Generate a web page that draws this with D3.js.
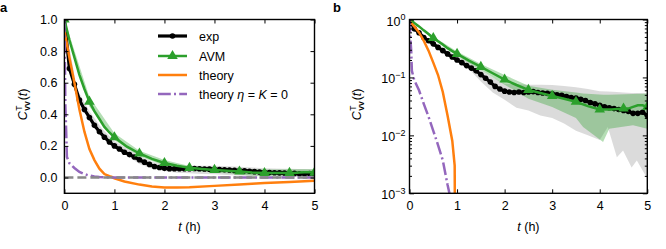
<!DOCTYPE html>
<html>
<head>
<meta charset="utf-8">
<script src="https://cdn.jsdelivr.net/npm/d3@7"></script>
<style>
  body { margin: 0; background: #fff; }
  text { font-family: "Liberation Sans", Arial, sans-serif; }
</style>
</head>
<body>
<svg id="chart" width="666" height="249"></svg>
<script>
// ---- data ----
const timeTicks = [0, 1, 2, 3, 4, 5];
const linTicks = [0.0, 0.2, 0.4, 0.6, 0.8, 1.0];
const logTicks = [1, 0.1, 0.01, 0.001];
const logTickExp = ["0", "\u22121", "\u22122", "\u22123"];
const legendLabels = ["exp", "AVM", "theory", "theory \u03b7 = K = 0"];

const expT = [0, 0.1, 0.2, 0.3, 0.4, 0.5, 0.6, 0.7, 0.8, 0.9, 1.0, 1.1, 1.2, 1.3, 1.4, 1.5, 1.6, 1.7, 1.8, 1.9,
  2.0, 2.1, 2.2, 2.3, 2.4, 2.5, 2.6, 2.7, 2.8, 2.9, 3.0, 3.1, 3.2, 3.3, 3.4, 3.5, 3.6, 3.7, 3.8, 3.9,
  4.0, 4.1, 4.2, 4.3, 4.4, 4.5, 4.6, 4.7, 4.8, 4.9, 5.0];
const expC = [1.0, 0.69, 0.59, 0.49, 0.43, 0.38, 0.33, 0.29, 0.255, 0.225, 0.2, 0.18, 0.16, 0.145, 0.13, 0.112, 0.097, 0.083, 0.07, 0.063,
  0.058, 0.056, 0.055, 0.056, 0.055, 0.056, 0.057, 0.055, 0.054, 0.053, 0.052, 0.05, 0.049, 0.047, 0.045, 0.044, 0.042, 0.04, 0.037, 0.035,
  0.033, 0.031, 0.03, 0.029, 0.028, 0.027, 0.026, 0.024, 0.024, 0.025, 0.022];

const expBandT = [0, 0.25, 0.5, 0.75, 1, 1.25, 1.5, 1.75, 2, 2.25, 2.5, 2.75, 3, 3.25, 3.5, 3.75, 4, 4.17, 4.36, 4.49, 4.67, 4.78, 5];
const expLo = [1, 0.5, 0.36, 0.26, 0.185, 0.14, 0.085, 0.055, 0.041, 0.03, 0.027, 0.022, 0.02, 0.016, 0.012, 0.01, 0.0083, 0.014, 0.0042, 0.0055, 0.0028, 0.0037, 0.0018];
const expHi = [1, 0.56, 0.42, 0.31, 0.23, 0.185, 0.135, 0.1, 0.078, 0.076, 0.075, 0.075, 0.074, 0.071, 0.068, 0.063, 0.058, 0.057, 0.056, 0.055, 0.054, 0.054, 0.053];

const avmT = [0, 0.1, 0.2, 0.3, 0.4, 0.5, 0.6, 0.7, 0.8, 0.9, 1.0, 1.25, 1.5, 1.75, 2.0, 2.25, 2.5, 2.75, 3.0, 3.25,
  3.5, 3.75, 4.0, 4.25, 4.5, 4.6, 4.7, 4.8, 4.9, 5.0];
const avmC = [1.0, 0.87, 0.76, 0.65, 0.56, 0.48, 0.42, 0.37, 0.32, 0.285, 0.255, 0.195, 0.152, 0.118, 0.092, 0.074, 0.061, 0.054, 0.048, 0.043,
  0.038, 0.032, 0.028, 0.028, 0.029, 0.029, 0.031, 0.033, 0.033, 0.031];
const avmMarkT = [0, 0.5, 1, 1.5, 2, 2.5, 3, 3.5, 4, 4.5, 5];

const avmBandT = [0, 0.5, 1, 1.5, 2, 2.5, 3, 3.5, 3.65, 4.07, 4.2, 4.7, 5];
const avmLo = [1, 0.45, 0.235, 0.135, 0.075, 0.043, 0.031, 0.02, 0.014, 0.0077, 0.013, 0.015, 0.013];
const avmHi = [1, 0.51, 0.28, 0.17, 0.11, 0.072, 0.061, 0.055, 0.053, 0.05, 0.05, 0.052, 0.053];

const theoryT = [0, 0.1, 0.2, 0.3, 0.4, 0.5, 0.6, 0.7, 0.8, 0.9, 0.95, 1.0, 1.2, 1.5, 1.75, 2.0, 2.25, 2.5, 3.0, 3.5, 4.0, 4.5, 5.0];
const theoryC = [0.93, 0.76, 0.6, 0.43, 0.29, 0.18, 0.11, 0.056, 0.022, 0.008, 0.003, -0.005, -0.025, -0.045, -0.057, -0.063, -0.063, -0.061, -0.053, -0.044, -0.035, -0.028, -0.021];

const theory0T = [0, 0.02, 0.035, 0.05, 0.1, 0.2, 0.3, 0.4, 0.5, 0.6, 0.7, 0.8, 0.9, 1.0, 1.5, 2.0, 3.0, 4.0, 5.0];
const theory0C = [1.0, 0.45, 0.3, 0.13, 0.09, 0.06, 0.035, 0.021, 0.012, 0.0068, 0.0037, 0.0014, 0.0006, 0.0002, 0.00001, 0.000001, 0.0000001, 0.0000001, 0.0000001];

// ---- layout ----
const svg = d3.select("#chart");
const plotTop = 19.5, plotBottom = 193.3;
const panels = [
  { id: "a", left: 64.4, right: 314.5, log: false },
  { id: "b", left: 409.5, right: 647.3, log: true }
];
const col = { exp: "#000000", avm: "#2ca02c", th: "#ff7f0e", th0: "#9467bd", zero: "#888888" };

const zip = (t, v) => t.map((d, i) => [d, v[i]]);

panels.forEach(p => {
  const x = d3.scaleLinear().domain([0, 5]).range([p.left, p.right]);
  const y = p.log
    ? d3.scaleLog().domain([1e-3, 1]).range([plotBottom, plotTop])
    : d3.scaleLinear().domain([-0.1, 1.0]).range([plotBottom, plotTop]);
  const yv = v => p.log ? y(Math.max(v, 1e-12)) : y(v);

  const g = svg.append("g");
  const clipId = "clip-" + p.id;
  svg.append("clipPath").attr("id", clipId)
    .append("rect").attr("x", p.left).attr("y", plotTop)
    .attr("width", p.right - p.left).attr("height", plotBottom - plotTop);
  const plot = g.append("g").attr("clip-path", "url(#" + clipId + ")");

  const area = d3.area().x(d => x(d[0])).y0(d => yv(d[1])).y1(d => yv(d[2]));
  const line = d3.line().x(d => x(d[0])).y(d => yv(d[1]));

  // bands
  plot.append("path")
    .attr("d", area(expBandT.map((t, i) => [t, expLo[i], expHi[i]])))
    .attr("fill", "#bdbdbd").attr("opacity", 0.55);
  plot.append("path")
    .attr("d", area(avmBandT.map((t, i) => [t, avmLo[i], avmHi[i]])))
    .attr("fill", col.avm).attr("opacity", 0.35);

  // exp
  plot.append("path").attr("d", line(zip(expT, expC)))
    .attr("fill", "none").attr("stroke", col.exp).attr("stroke-width", 3.2);
  plot.selectAll("circle.exp").data(zip(expT, expC)).enter().append("circle")
    .attr("class", "exp").attr("cx", d => x(d[0])).attr("cy", d => yv(d[1]))
    .attr("r", 2.8).attr("fill", col.exp);

  // AVM
  plot.append("path").attr("d", line(zip(avmT, avmC)))
    .attr("fill", "none").attr("stroke", col.avm).attr("stroke-width", 2.5);
  const tri = d3.symbol().type(d3.symbolTriangle).size(48);
  plot.selectAll("path.avm").data(zip(avmT, avmC).filter(d => avmMarkT.includes(d[0]))).enter()
    .append("path").attr("class", "avm")
    .attr("transform", d => `translate(${x(d[0])},${yv(d[1])})`)
    .attr("d", tri).attr("fill", col.avm);

  // theory
  plot.append("path").attr("d", line(zip(theoryT, theoryC)))
    .attr("fill", "none").attr("stroke", col.th).attr("stroke-width", 2.5);
  plot.append("path").attr("d", line(zip(theory0T, theory0C)))
    .attr("fill", "none").attr("stroke", col.th0).attr("stroke-width", 2.5)
    .attr("stroke-dasharray", "12.8,3.2,2,3.2");

  if (!p.log) {
    plot.append("line").attr("x1", x(0)).attr("x2", x(5))
      .attr("y1", y(0)).attr("y2", y(0))
      .attr("stroke", col.zero).attr("stroke-width", 2.5)
      .attr("stroke-dasharray", "9,4");
  }

  // axes (inward ticks on all sides)
  const styleAxis = sel => {
    sel.select(".domain").remove();
    sel.selectAll(".tick line").attr("stroke", "#000").attr("stroke-width", 1);
    sel.selectAll("text").attr("font-size", 12.5).attr("fill", "#000")
      .attr("font-family", "'Liberation Sans', Arial, sans-serif");
  };
  g.append("g").attr("transform", `translate(0,${plotBottom})`)
    .call(d3.axisBottom(x).tickValues(timeTicks).tickFormat(d3.format("d")).tickSize(-4).tickPadding(8))
    .call(styleAxis);
  g.append("g").attr("transform", `translate(0,${plotTop})`)
    .call(d3.axisTop(x).tickValues(timeTicks).tickFormat("").tickSize(-4))
    .call(styleAxis);

  if (!p.log) {
    g.append("g").attr("transform", `translate(${p.left},0)`)
      .call(d3.axisLeft(y).tickValues(linTicks).tickFormat(d3.format(".1f")).tickSize(-4).tickPadding(7))
      .call(styleAxis);
    g.append("g").attr("transform", `translate(${p.right},0)`)
      .call(d3.axisRight(y).tickValues(linTicks).tickFormat("").tickSize(-4))
      .call(styleAxis);
  } else {
    const minor = y.ticks().filter(v => !logTicks.includes(v));
    [[d3.axisLeft, p.left], [d3.axisRight, p.right]].forEach(([ax, xp]) => {
      g.append("g").attr("transform", `translate(${xp},0)`)
        .call(ax(y).tickValues(minor).tickFormat("").tickSize(-2.5))
        .call(styleAxis);
      g.append("g").attr("transform", `translate(${xp},0)`)
        .call(ax(y).tickValues(logTicks).tickFormat("").tickSize(-4.5))
        .call(styleAxis);
    });
    const lab = g.append("g");
    logTicks.forEach((v, i) => {
      const t = lab.append("text").attr("x", p.left - 4).attr("y", y(v) + 6)
        .attr("text-anchor", "end").attr("font-size", 12.5);
      t.append("tspan").text("10");
      t.append("tspan").attr("font-size", 9).attr("dy", -5.5).text(logTickExp[i]);
    });
  }

  // frame
  g.append("rect").attr("x", p.left).attr("y", plotTop)
    .attr("width", p.right - p.left).attr("height", plotBottom - plotTop)
    .attr("fill", "none").attr("stroke", "#000").attr("stroke-width", 1.4);

  // axis labels
  const xl = g.append("text").attr("x", (p.left + p.right) / 2).attr("y", 231)
    .attr("text-anchor", "middle").attr("font-size", 12.5);
  xl.append("tspan").attr("font-style", "italic").text("t");
  xl.append("tspan").text(" (h)");

  const ylx = p.log ? 361 : 27;
  const yl = g.append("text").attr("transform", `translate(${ylx},${(plotTop + plotBottom) / 2 - 2}) rotate(-90)`)
    .attr("text-anchor", "middle").attr("font-size", 12.5);
  yl.append("tspan").attr("font-style", "italic").text("C");
  yl.append("tspan").attr("font-size", 8.5).attr("dx", 0.5).attr("dy", -5.5).text("T");
  yl.append("tspan").attr("font-size", 8.5).attr("font-weight", "bold").attr("dx", -5.2).attr("dy", 8.5).text("vv");
  yl.append("tspan").attr("dx", 1).attr("dy", -3).text("(");
  yl.append("tspan").attr("font-style", "italic").text("t");
  yl.append("tspan").text(")");

  // panel letter
  svg.append("text").attr("x", p.log ? 333 : 0).attr("y", 11.5)
    .attr("font-size", 13).attr("font-weight", "bold").text(p.id);
});

// ---- legend (panel a) ----
const leg = svg.append("g");
const legRows = [36, 56, 75, 94];
const lx0 = 158, lx1 = 187, ltx = 199;
legRows.forEach((ry, i) => {
  const ln = leg.append("line").attr("x1", lx0).attr("x2", lx1).attr("y1", ry).attr("y2", ry)
    .attr("stroke-width", 2.5);
  if (i === 0) {
    ln.attr("stroke", col.exp).attr("stroke-width", 3.2);
    leg.append("circle").attr("cx", (lx0 + lx1) / 2).attr("cy", ry).attr("r", 2.8).attr("fill", col.exp);
  } else if (i === 1) {
    ln.attr("stroke", col.avm);
    leg.append("path").attr("transform", `translate(${(lx0 + lx1) / 2},${ry})`)
      .attr("d", d3.symbol().type(d3.symbolTriangle).size(48)).attr("fill", col.avm);
  } else if (i === 2) {
    ln.attr("stroke", col.th);
  } else {
    ln.attr("stroke", col.th0).attr("stroke-dasharray", "12.8,3.2,2,3.2");
  }
  const tx = leg.append("text").attr("x", ltx).attr("y", ry + 4.5).attr("font-size", 12.5);
  if (i < 3) {
    tx.text(legendLabels[i]);
  } else {
    tx.append("tspan").text("theory ");
    tx.append("tspan").attr("font-style", "italic").text("\u03b7");
    tx.append("tspan").text(" = ");
    tx.append("tspan").attr("font-style", "italic").text("K");
    tx.append("tspan").text(" = 0");
  }
});
</script>
</body>
</html>
